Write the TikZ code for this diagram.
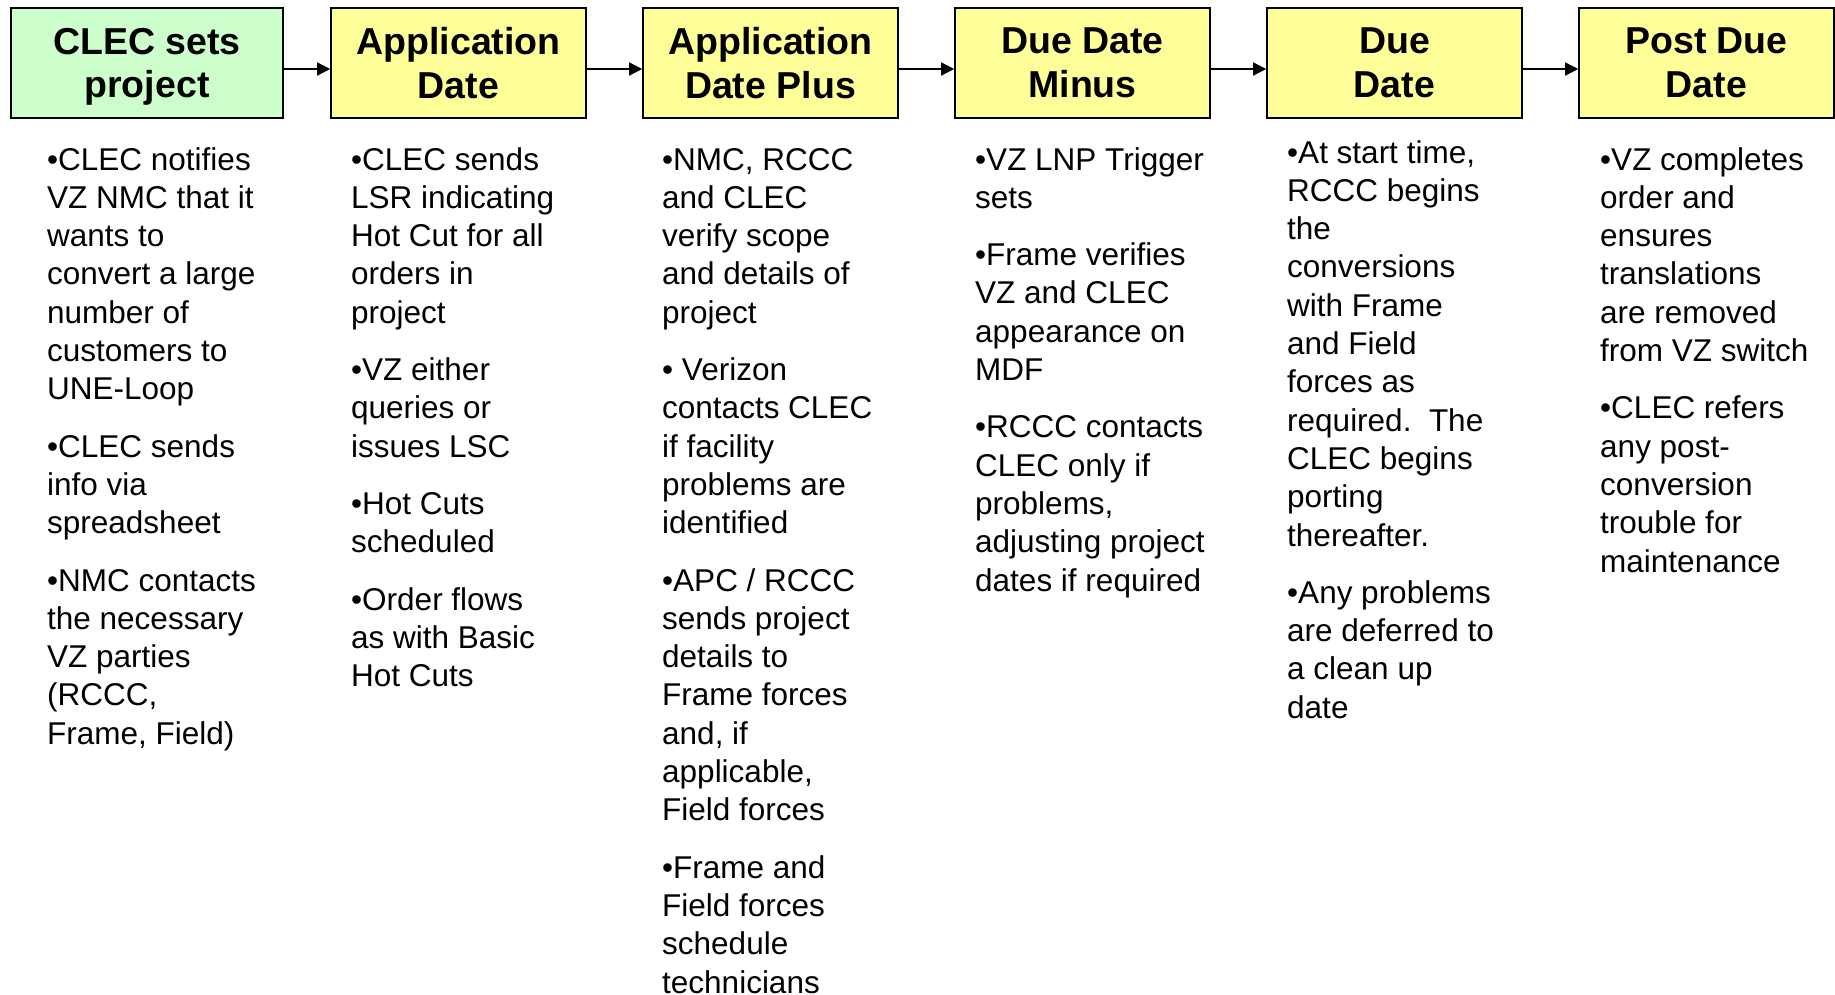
\documentclass[tikz,border=0pt]{standalone}
\usepackage{fontspec}
\setmainfont{Liberation Sans}
\usetikzlibrary{arrows.meta}
\definecolor{stagegreen}{HTML}{CCFFCC}
\definecolor{stageyellow}{HTML}{FFFF99}
\tikzset{
  stage/.style={draw=black, line width=1.6pt, fill=stageyellow, minimum width=255pt,
    minimum height=110pt, inner sep=0pt, align=center,
    font=\bfseries\fontsize{37.5}{43.5}\selectfont},
  notes/.style={anchor=north west, inner sep=0pt, align=left,
    font=\fontsize{31.5}{38.3}\selectfont},
  flow/.style={-{Triangle[length=13pt,width=13pt]}, line width=1.5pt}
}
\begin{document}
\begin{tikzpicture}[x=1pt,y=-1pt]
            \useasboundingbox (0,0) rectangle (1835,994);
            \clip (0,0) rectangle (1835,994);
            % stages
            \node[stage, fill=stagegreen, minimum width=272pt] (clec) at (147,63) {CLEC sets\\\smash{project}};
            \node[stage] (appdate) at (458.5,63) {Application\\Date};
            \node[stage] (appplus) at (770.5,63) {Application\\Date Plus};
            \node[stage] (ddminus) at (1082.5,63) {Due Date\\Minus};
            \node[stage] (duedate) at (1394.5,63) {Due\\Date};
            \node[stage] (postdue) at (1706.5,63) {Post Due\\Date};
            % flow
            \draw[flow] ([yshift=-6pt]clec.east) -- ([yshift=-6pt]appdate.west);
            \draw[flow] ([yshift=-6pt]appdate.east) -- ([yshift=-6pt]appplus.west);
            \draw[flow] ([yshift=-6pt]appplus.east) -- ([yshift=-6pt]ddminus.west);
            \draw[flow] ([yshift=-6pt]ddminus.east) -- ([yshift=-6pt]duedate.west);
            \draw[flow] ([yshift=-6pt]duedate.east) -- ([yshift=-6pt]postdue.west);
            % notes
            \node[notes] (clecnotes) at (47,143) {\strut •CLEC notifies\\VZ NMC that it\\wants to\\convert a large\\number of\\customers to\\UNE-Loop\\[19pt]•CLEC sends\\info via\\spreadsheet\\[19pt]•NMC contacts\\the necessary\\VZ parties\\(RCCC,\\Frame, Field)};
            \node[notes] (appdatenotes) at (351,143) {\strut •CLEC sends\\LSR indicating\\Hot Cut for all\\orders in\\project\\[19pt]•VZ either\\queries or\\issues LSC\\[19pt]•Hot Cuts\\scheduled\\[19pt]•Order flows\\as with Basic\\Hot Cuts};
            \node[notes] (appplusnotes) at (662,143) {\strut •NMC, RCCC\\and CLEC\\verify scope\\and details of\\project\\[19pt]• Verizon\\contacts CLEC\\if facility\\problems are\\identified\\[19pt]•APC / RCCC\\sends project\\details to\\Frame forces\\and, if\\applicable,\\Field forces\\[19pt]•Frame and\\Field forces\\schedule\\technicians};
            \node[notes] (ddminusnotes) at (975,143) {\strut •VZ LNP Trigger\\sets\\[19pt]•Frame verifies\\VZ and CLEC\\appearance on\\MDF\\[19pt]•RCCC contacts\\CLEC only if\\problems,\\adjusting project\\dates if required};
            \node[notes] (duedatenotes) at (1287,136) {\strut •At start time,\\RCCC begins\\the\\conversions\\with Frame\\and Field\\forces as\\required.\ \ The\\CLEC begins\\porting\\thereafter.\\[19pt]•Any problems\\are deferred to\\a clean up\\date};
            \node[notes] (postduenotes) at (1600,143) {\strut •VZ completes\\order and\\ensures\\translations\\are removed\\from VZ switch\\[19pt]•CLEC refers\\any post-\\conversion\\trouble for\\maintenance};
          \end{tikzpicture}
\end{document}
